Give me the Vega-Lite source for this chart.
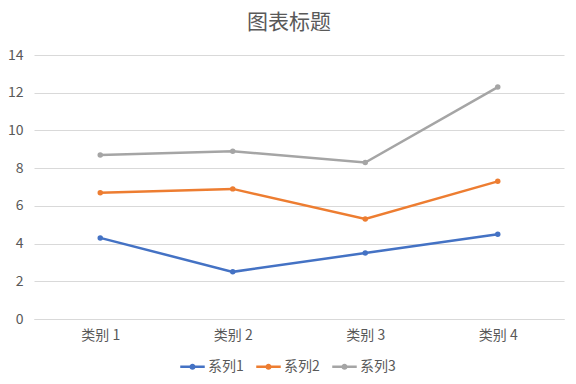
{
  "$schema": "https://vega.github.io/schema/vega-lite/v6.json",
  "width": 530,
  "height": 264,
  "autosize": {"type": "none"},
  "padding": {"left": 34, "top": 55, "right": 12, "bottom": 65},
  "background": "white",
  "title": {"text": "图表标题", "fontSize": 21, "font": "Noto Sans CJK SC", "fontWeight": "normal", "color": "#595959", "offset": 15, "dx": -10},
  "data": {"values": [
    {"c": "类别 1", "s": "系列1", "v": 4.3},
    {"c": "类别 2", "s": "系列1", "v": 2.5},
    {"c": "类别 3", "s": "系列1", "v": 3.5},
    {"c": "类别 4", "s": "系列1", "v": 4.5},
    {"c": "类别 1", "s": "系列2", "v": 6.7},
    {"c": "类别 2", "s": "系列2", "v": 6.9},
    {"c": "类别 3", "s": "系列2", "v": 5.3},
    {"c": "类别 4", "s": "系列2", "v": 7.3},
    {"c": "类别 1", "s": "系列3", "v": 8.7},
    {"c": "类别 2", "s": "系列3", "v": 8.9},
    {"c": "类别 3", "s": "系列3", "v": 8.3},
    {"c": "类别 4", "s": "系列3", "v": 12.3}
  ]},
  "mark": {"type": "line", "strokeWidth": 2.5, "point": {"filled": true, "size": 30}},
  "encoding": {
    "x": {"field": "c", "type": "nominal", "sort": null, "scale": {"type": "point", "padding": 0.5},
      "axis": {"title": null, "labelAngle": 0, "ticks": false, "domain": true, "domainColor": "#d9d9d9", "labelPadding": 9, "grid": false}},
    "y": {"field": "v", "type": "quantitative", "scale": {"domain": [0, 14]},
      "axis": {"title": null, "values": [0, 2, 4, 6, 8, 10, 12, 14], "ticks": false, "domain": false, "gridColor": "#d9d9d9", "labelPadding": 11}},
    "color": {"field": "s", "type": "nominal",
      "scale": {"domain": ["系列1", "系列2", "系列3"], "range": ["#4472C4", "#ED7D31", "#A5A5A5"]},
      "legend": {"title": null, "orient": "none", "legendX": 146, "legendY": 299, "direction": "horizontal",
        "symbolType": "M-1,-0.1H1V0.1H-1Z M-0.25,0A0.25,0.25 0 1,1 0.25,0A0.25,0.25 0 1,1 -0.25,0Z",
        "symbolSize": 600, "symbolStrokeWidth": 0, "labelFontSize": 14, "labelColor": "#595959", "labelFont": "Noto Sans CJK SC", "labelOffset": 3, "columnPadding": 12}}
  },
  "config": {
    "view": {"stroke": null},
    "axis": {"labelFontSize": 14, "labelColor": "#595959", "labelFont": "Noto Sans CJK SC"}
  }
}
